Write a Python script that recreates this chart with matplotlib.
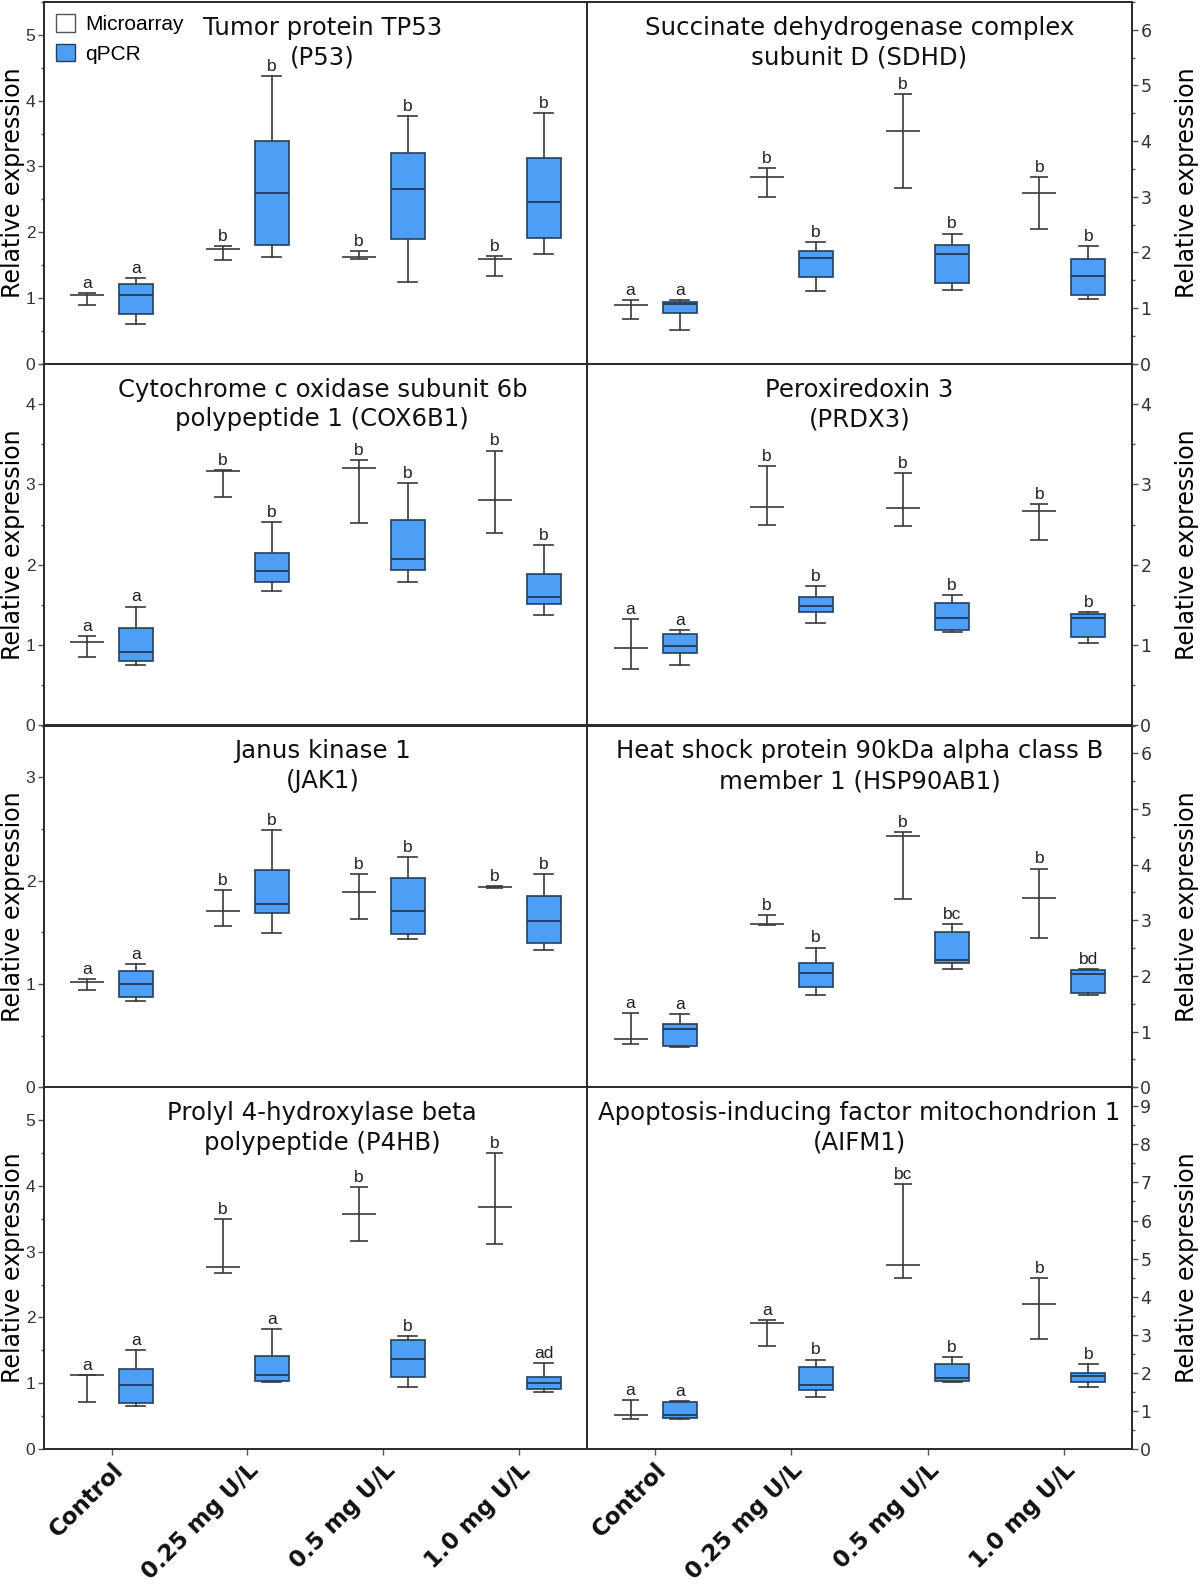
import matplotlib
matplotlib.use('Agg')
import matplotlib.pyplot as plt
from matplotlib.patches import Patch
from matplotlib.ticker import MultipleLocator

# groups along the x axis
groups = ['Control', '0.25 mg U/L', '0.5 mg U/L', '1.0 mg U/L']

genes = ['P53', 'SDHD', 'COX6B1', 'PRDX3', 'JAK1', 'HSP90AB1', 'P4HB', 'AIFM1']
titles = {
    'P53': 'Tumor protein TP53\n(P53)',
    'SDHD': 'Succinate dehydrogenase complex\nsubunit D (SDHD)',
    'COX6B1': 'Cytochrome c oxidase subunit 6b\npolypeptide 1 (COX6B1)',
    'PRDX3': 'Peroxiredoxin 3\n(PRDX3)',
    'JAK1': 'Janus kinase 1\n(JAK1)',
    'HSP90AB1': 'Heat shock protein 90kDa alpha class B\nmember 1 (HSP90AB1)',
    'P4HB': 'Prolyl 4-hydroxylase beta\npolypeptide (P4HB)',
    'AIFM1': 'Apoptosis-inducing factor mitochondrion 1\n(AIFM1)',
}
ymax = {'P53': 5.5, 'SDHD': 6.5, 'COX6B1': 4.5, 'PRDX3': 4.5,
        'JAK1': 3.5, 'HSP90AB1': 6.5, 'P4HB': 5.5, 'AIFM1': 9.5}

# microarray: mean line with min/max bars
ma_mean = {
    'P53': [1.05, 1.74, 1.63, 1.60],
    'SDHD': [1.05, 3.36, 4.19, 3.06],
    'COX6B1': [1.04, 3.16, 3.20, 2.80],
    'PRDX3': [0.97, 2.72, 2.70, 2.67],
    'JAK1': [1.02, 1.71, 1.89, 1.94],
    'HSP90AB1': [0.87, 2.93, 4.52, 3.40],
    'P4HB': [1.12, 2.76, 3.58, 3.68],
    'AIFM1': [0.88, 3.30, 4.84, 3.82],
}
ma_hi = {
    'P53': [1.07, 1.79, 1.71, 1.64],
    'SDHD': [1.15, 3.52, 4.84, 3.36],
    'COX6B1': [1.11, 3.18, 3.30, 3.42],
    'PRDX3': [1.32, 3.23, 3.14, 2.76],
    'JAK1': [1.05, 1.91, 2.06, 1.95],
    'HSP90AB1': [1.33, 3.09, 4.59, 3.93],
    'P4HB': [1.13, 3.50, 3.98, 4.50],
    'AIFM1': [1.29, 3.38, 6.97, 4.50],
}
ma_lo = {
    'P53': [0.89, 1.57, 1.60, 1.33],
    'SDHD': [0.81, 3.00, 3.15, 2.42],
    'COX6B1': [0.85, 2.84, 2.52, 2.40],
    'PRDX3': [0.70, 2.50, 2.48, 2.31],
    'JAK1': [0.94, 1.56, 1.63, 1.93],
    'HSP90AB1': [0.78, 2.91, 3.38, 2.69],
    'P4HB': [0.71, 2.67, 3.16, 3.11],
    'AIFM1': [0.79, 2.70, 4.48, 2.90],
}

# qPCR box stats
q_lo = {
    'P53': [0.61, 1.62, 1.24, 1.67],
    'SDHD': [0.61, 1.31, 1.33, 1.17],
    'COX6B1': [0.75, 1.67, 1.79, 1.38],
    'PRDX3': [0.75, 1.28, 1.16, 1.03],
    'JAK1': [0.83, 1.49, 1.43, 1.33],
    'HSP90AB1': [0.72, 1.66, 2.12, 1.66],
    'P4HB': [0.65, 1.02, 0.94, 0.87],
    'AIFM1': [0.79, 1.37, 1.77, 1.62],
}
q_q1 = {
    'P53': [0.76, 1.81, 1.89, 1.91],
    'SDHD': [0.92, 1.56, 1.45, 1.23],
    'COX6B1': [0.80, 1.79, 1.94, 1.51],
    'PRDX3': [0.90, 1.41, 1.19, 1.10],
    'JAK1': [0.87, 1.69, 1.48, 1.40],
    'HSP90AB1': [0.74, 1.81, 2.23, 1.70],
    'P4HB': [0.70, 1.04, 1.10, 0.91],
    'AIFM1': [0.82, 1.56, 1.79, 1.76],
}
q_med = {
    'P53': [1.05, 2.59, 2.65, 2.46],
    'SDHD': [1.08, 1.90, 1.97, 1.58],
    'COX6B1': [0.91, 1.92, 2.07, 1.60],
    'PRDX3': [0.99, 1.49, 1.34, 1.34],
    'JAK1': [1.00, 1.77, 1.71, 1.61],
    'HSP90AB1': [1.05, 2.05, 2.29, 2.04],
    'P4HB': [0.97, 1.13, 1.37, 1.01],
    'AIFM1': [0.90, 1.69, 1.87, 1.91],
}
q_q3 = {
    'P53': [1.21, 3.38, 3.21, 3.13],
    'SDHD': [1.11, 2.03, 2.14, 1.88],
    'COX6B1': [1.21, 2.15, 2.56, 1.89],
    'PRDX3': [1.14, 1.60, 1.53, 1.39],
    'JAK1': [1.12, 2.10, 2.02, 1.85],
    'HSP90AB1': [1.14, 2.24, 2.79, 2.11],
    'P4HB': [1.22, 1.41, 1.65, 1.10],
    'AIFM1': [1.23, 2.15, 2.23, 2.00],
}
q_hi = {
    'P53': [1.30, 4.37, 3.76, 3.81],
    'SDHD': [1.14, 2.18, 2.34, 2.11],
    'COX6B1': [1.48, 2.53, 3.02, 2.25],
    'PRDX3': [1.19, 1.74, 1.62, 1.41],
    'JAK1': [1.19, 2.49, 2.23, 2.06],
    'HSP90AB1': [1.31, 2.51, 2.94, 2.13],
    'P4HB': [1.50, 1.83, 1.72, 1.30],
    'AIFM1': [1.26, 2.35, 2.42, 2.24],
}

# significance letters
ma_letters = {
    'P53': ['a', 'b', 'b', 'b'], 'SDHD': ['a', 'b', 'b', 'b'],
    'COX6B1': ['a', 'b', 'b', 'b'], 'PRDX3': ['a', 'b', 'b', 'b'],
    'JAK1': ['a', 'b', 'b', 'b'], 'HSP90AB1': ['a', 'b', 'b', 'b'],
    'P4HB': ['a', 'b', 'b', 'b'], 'AIFM1': ['a', 'a', 'bc', 'b'],
}
q_letters = {
    'P53': ['a', 'b', 'b', 'b'], 'SDHD': ['a', 'b', 'b', 'b'],
    'COX6B1': ['a', 'b', 'b', 'b'], 'PRDX3': ['a', 'b', 'b', 'b'],
    'JAK1': ['a', 'b', 'b', 'b'], 'HSP90AB1': ['a', 'b', 'bc', 'bd'],
    'P4HB': ['a', 'a', 'b', 'ad'], 'AIFM1': ['a', 'b', 'b', 'b'],
}

BLUE = '#4d9ef4'
EDGE = '#24405e'
LINE = '#3a3a3a'
ARIAL = 'Liberation Sans'
VERD = 'DejaVu Sans'

W, H = 1200, 1587
fig = plt.figure(figsize=(W / 100, H / 100), dpi=100)

x_left, x_mid, x_right = 43.6 / W, 587 / W, 1132 / W
y_bot = 1 - 1449 / H
row_h = (1449 - 2) / H / 4
off = 0.18

for i, g in enumerate(genes):
    r, c = divmod(i, 2)
    x0 = x_left if c == 0 else x_mid
    w = (x_mid - x_left) if c == 0 else (x_right - x_mid)
    ax = fig.add_axes([x0, y_bot + (3 - r) * row_h, w, row_h])

    pos = range(len(groups))
    xm = [p - off for p in pos]
    xq = [p + off for p in pos]

    # microarray
    ax.vlines(xm, ma_lo[g], ma_hi[g], color=LINE, lw=1.2)
    ax.hlines(ma_hi[g], [x - 0.065 for x in xm], [x + 0.065 for x in xm], color=LINE, lw=1.2)
    ax.hlines(ma_lo[g], [x - 0.065 for x in xm], [x + 0.065 for x in xm], color=LINE, lw=1.2)
    ax.hlines(ma_mean[g], [x - 0.125 for x in xm], [x + 0.125 for x in xm], color=LINE, lw=1.2)

    # qPCR boxes
    stats = [dict(whislo=q_lo[g][k], q1=q_q1[g][k], med=q_med[g][k],
                  q3=q_q3[g][k], whishi=q_hi[g][k]) for k in range(len(groups))]
    ax.bxp(stats, positions=xq, widths=0.25, capwidths=0.14, showfliers=False,
           patch_artist=True,
           boxprops=dict(facecolor=BLUE, edgecolor=EDGE, lw=1.2),
           medianprops=dict(color=EDGE, lw=1.4),
           whiskerprops=dict(color=LINE, lw=1.2),
           capprops=dict(color=LINE, lw=1.2),
           manage_ticks=False)

    for k in range(len(groups)):
        ax.annotate(ma_letters[g][k], (xm[k], ma_hi[g][k]), xytext=(0, 1.5),
                    textcoords='offset points', ha='center', va='bottom',
                    fontsize=12.5, family=ARIAL, color='#222')
        ax.annotate(q_letters[g][k], (xq[k], q_hi[g][k]), xytext=(0, 1.5),
                    textcoords='offset points', ha='center', va='bottom',
                    fontsize=12.5, family=ARIAL, color='#222')

    ax.set_xlim(-0.5, 3.5)
    ax.set_ylim(0, ymax[g])
    ax.yaxis.set_major_locator(MultipleLocator(1))
    ax.yaxis.set_minor_locator(MultipleLocator(0.5))
    ax.set_xticks(list(pos))
    ax.tick_params(axis='both', which='major', direction='out', length=4,
                   width=1, color='#555', labelsize=12.5, labelcolor='#333', pad=2)
    ax.tick_params(axis='y', which='minor', direction='out', length=2.5, width=1, color='#555')
    for lab in ax.get_yticklabels():
        lab.set_family(ARIAL)
    if r == 3:
        ax.set_xticklabels(groups, rotation=45, ha='right', rotation_mode='anchor',
                           fontsize=16.5, family=VERD, fontweight='bold', color='#111')
        ax.tick_params(axis='x', pad=3)
    else:
        ax.set_xticklabels([])

    for s in ax.spines.values():
        s.set_linewidth(1.4)
        s.set_color('#2a2a2a')

    if c == 1:
        ax.yaxis.tick_right()
        ax.yaxis.set_label_position('right')
        ax.set_ylabel('Relative expression', fontsize=17, family=VERD)
        ax.yaxis.set_label_coords((1175 - 587) / 545, 0.5)
    else:
        ax.set_ylabel('Relative expression', fontsize=17, family=VERD)
        ax.yaxis.set_label_coords((25 - 43.6) / 543.4, 0.5)

    tx = 0.513 if c == 0 else 0.5
    ax.text(tx, 1 - 14 / 362, titles[g], transform=ax.transAxes, ha='center', va='top',
            fontsize=17.6, family=VERD, linespacing=1.3, color='#111')

    if i == 0:
        handles = [Patch(facecolor='white', edgecolor='#555', lw=1),
                   Patch(facecolor=BLUE, edgecolor=EDGE, lw=1)]
        leg = ax.legend(handles, ['Microarray', 'qPCR'], loc='upper left',
                        bbox_to_anchor=(0.0, 1.0), frameon=False,
                        handlelength=0.9, handleheight=0.9, handletextpad=0.5,
                        labelspacing=0.45, borderaxespad=0.2,
                        prop={'family': ARIAL, 'size': 15})

fig.savefig('out.png', dpi=100)
